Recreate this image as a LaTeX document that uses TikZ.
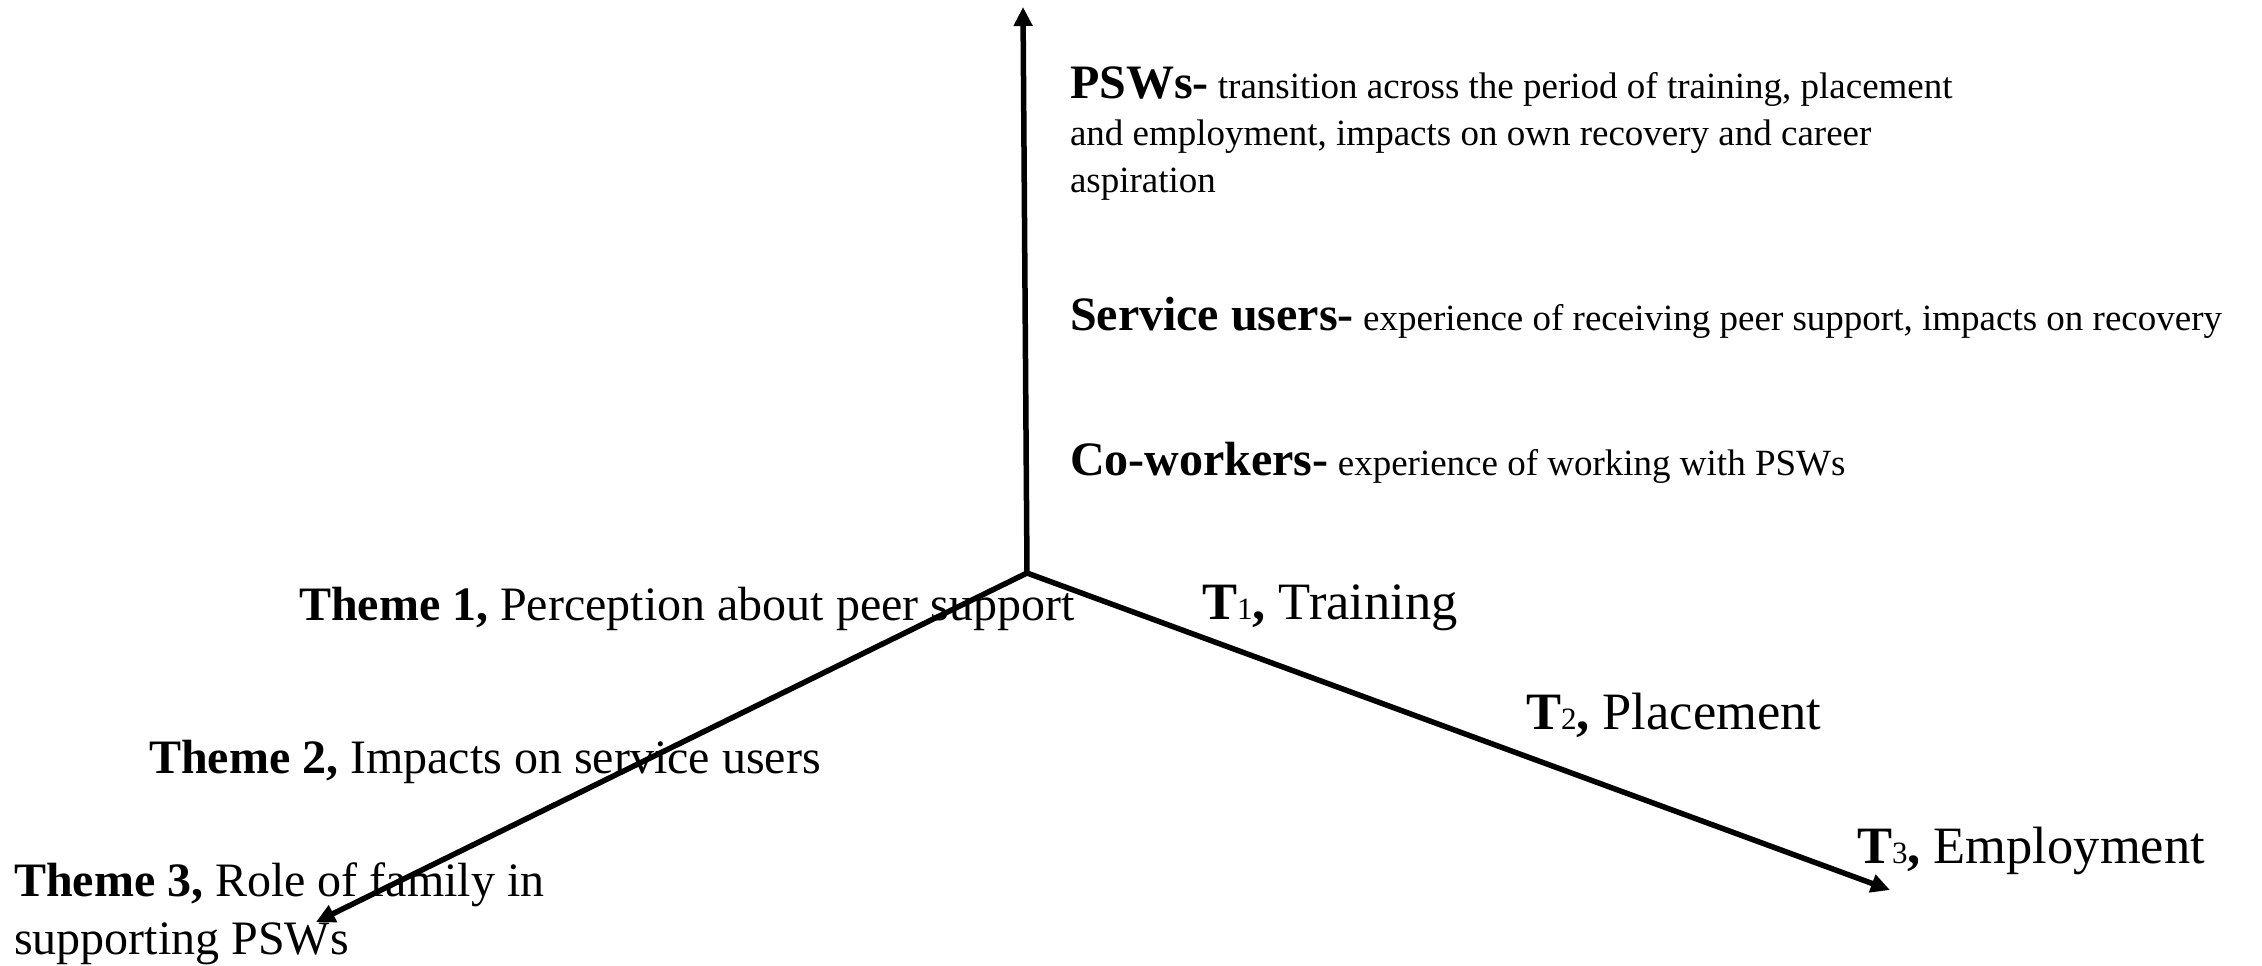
\documentclass[tikz,border=0pt]{standalone}
\usepackage{fontspec}
\setmainfont{Liberation Serif}
\usetikzlibrary{arrows.meta}

% font sizes in px-equivalent points
\newcommand{\headsize}{\fontsize{48}{58}\selectfont}
\newcommand{\bodysize}{\fontsize{37}{47}\selectfont}
\newcommand{\phasesize}{\fontsize{52.5}{60}\selectfont}
\newcommand{\phasesub}[1]{{\fontsize{31}{31}\selectfont #1}}

\begin{document}
\begin{tikzpicture}[x=1pt,y=-1pt,
  axis/.style={line width=5.5pt,-{Triangle[length=19pt,width=18pt]}},
  lbl/.style={anchor=base west,inner sep=0pt,outer sep=0pt,align=left},
  grouplbl/.style={lbl,font=\bodysize},
  themelbl/.style={lbl,font=\headsize},
  phaselbl/.style={lbl,font=\phasesize}]
\useasboundingbox (0,0) rectangle (2262,966);

% three axes from a common origin
\coordinate (o) at (1027,573);
\coordinate (up) at (1023,7);
\coordinate (left) at (316,922);
\coordinate (right) at (1890,890);
\draw[axis] (o) -- (up);
\draw[axis] (o) -- (left);
\draw[axis] (o) -- (right);

% participant groups along the vertical axis
% (base anchor of a multi-line node sits on its last line)
\node[grouplbl] (psw) at (1070,192)
  {{\headsize\bfseries PSWs-} transition across the period of training, placement\\
   and employment, impacts on own recovery and career\\
   aspiration};
\node[grouplbl] (svc) at (1070,330)
  {{\headsize\bfseries Service users-} experience of receiving peer support, impacts on recovery};
\node[grouplbl] (cow) at (1070,475)
  {{\headsize\bfseries Co-workers-} experience of working with PSWs};

% themes along the left axis
\node[themelbl] (th1) at (299,620) {\textbf{Theme 1,} Perception about peer support};
\node[themelbl] (th2) at (149,773) {\textbf{Theme 2,} Impacts on service users};
\node[themelbl] (th3) at (14,954) {\textbf{Theme 3,} Role of family in\\supporting PSWs};

% time points along the right axis
\node[phaselbl] (t1) at (1202,619) {\textbf{T}\phasesub{1}\textbf{,} Training};
\node[phaselbl] (t2) at (1526,729) {\textbf{T}\phasesub{2}\textbf{,} Placement};
\node[phaselbl] (t3) at (1857,863) {\textbf{T}\phasesub{3}\textbf{,} Employment};
\end{tikzpicture}
\end{document}
